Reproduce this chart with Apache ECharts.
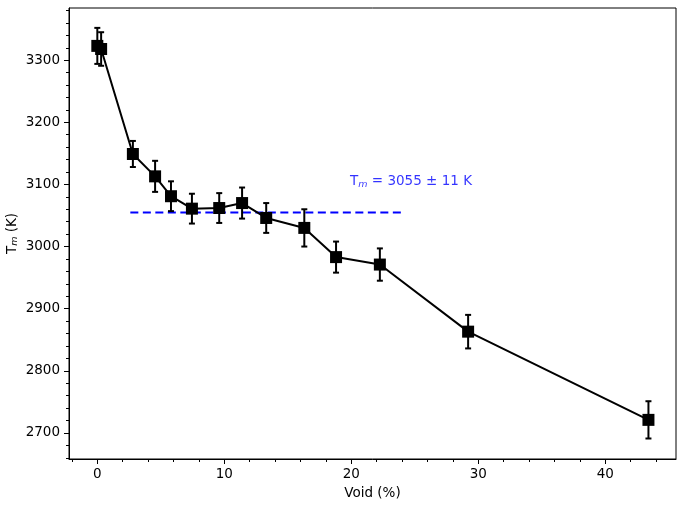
<!DOCTYPE html>
<html>
<head>
<meta charset="utf-8">
<script src="https://cdn.jsdelivr.net/npm/echarts@6/dist/echarts.min.js"></script>
<style>
  html, body { margin: 0; padding: 0; background: #fff; }
  #chart { width: 683px; height: 507px; }
</style>
</head>
<body>
<div id="chart"></div>
<script>
  // data
  var voids = [0, 0.3, 2.8, 4.55, 5.8, 7.45, 9.6, 11.4, 13.3, 16.3, 18.8, 22.25, 29.2, 43.4];
  var tm = [3323, 3318, 3149, 3113, 3081, 3061, 3062, 3070, 3046, 3030, 2983, 2971, 2863, 2721];
  var tmErr = [29, 27, 21, 25, 24, 24, 24, 25, 24, 30, 25, 26, 27, 30];
  var meanX = [2.6, 24.1];
  var meanTm = 3055;
  var xMajor = [0, 10, 20, 30, 40];
  var xMinor = [-2, 2, 4, 6, 8, 12, 14, 16, 18, 22, 24, 26, 28, 32, 34, 36, 38, 42, 44];
  var yMajor = [2700, 2800, 2900, 3000, 3100, 3200, 3300];
  var yMinor = [2660, 2680, 2720, 2740, 2760, 2780, 2820, 2840, 2860, 2880, 2920, 2940, 2960, 2980,
                3020, 3040, 3060, 3080, 3120, 3140, 3160, 3180, 3220, 3240, 3260, 3280, 3320, 3340, 3360, 3380];

  var xMin = -2.23, xMax = 45.57, yMin = 2658, yMax = 3384;
  var font = 'DejaVu Sans';

  var points = [];
  var bars = [];
  for (var i = 0; i < voids.length; i++) {
    points.push([voids[i], tm[i]]);
    bars.push([voids[i], tm[i] - tmErr[i], tm[i] + tmErr[i]]);
  }

  function axisX(idx, vals, len, labels) {
    return {
      type: 'value', min: xMin, max: xMax, gridIndex: 0, position: 'bottom',
      name: idx === 0 ? 'Void (%)' : '', nameLocation: 'middle', nameGap: 27, nameMoveOverlap: false,
      nameTextStyle: { fontFamily: font, fontSize: 13.5, color: '#000' },
      axisLine: { show: idx === 0, onZero: false, lineStyle: { color: '#000', width: 1 } },
      axisTick: { show: true, inside: false, length: len, customValues: vals, lineStyle: { color: '#000', width: 1 } },
      axisLabel: { show: labels, customValues: vals, formatter: function (v) { return String(v); },
        fontFamily: font, fontSize: 13.5, color: '#000', margin: 8 },
      splitLine: { show: false }
    };
  }
  function axisY(idx, vals, len, labels) {
    return {
      type: 'value', min: yMin, max: yMax, gridIndex: 0, position: 'left',
      name: idx === 0 ? 'T{sub|m} (K)' : '', nameLocation: 'middle', nameGap: 49, nameMoveOverlap: false,
      nameTextStyle: {
        fontFamily: font, fontSize: 13.5, color: '#000',
        rich: { sub: { fontFamily: font, fontSize: 9.5, fontStyle: 'italic', color: '#000', padding: [6, 0, 0, 0] } }
      },
      axisLine: { show: idx === 0, onZero: false, lineStyle: { color: '#000', width: 1 } },
      axisTick: { show: true, inside: false, length: len, customValues: vals, lineStyle: { color: '#000', width: 1 } },
      axisLabel: { show: labels, customValues: vals, formatter: function (v) { return String(v); },
        fontFamily: font, fontSize: 13.5, color: '#000', margin: 9 },
      splitLine: { show: false }
    };
  }

  var chart = echarts.init(document.getElementById('chart'));
  chart.setOption({
    animation: false,
    backgroundColor: '#fff',
    grid: { left: 69, right: 7, top: 8, bottom: 48, show: true, borderColor: '#000', borderWidth: 1,
      containLabel: false, outerBoundsMode: 'none' },
    xAxis: [axisX(0, xMajor, 5, true), axisX(1, xMinor, 3, false)],
    yAxis: [axisY(0, yMajor, 5, true), axisY(1, yMinor, 3, false)],
    series: [
      {
        type: 'line',
        data: meanX.map(function (x) { return [x, meanTm]; }),
        symbol: 'none',
        lineStyle: { color: '#0000ff', width: 2, type: [8, 4.5] },
        z: 1
      },
      {
        type: 'custom',
        data: bars,
        z: 3,
        renderItem: function (params, api) {
          var x = api.value(0);
          var lo = api.coord([x, api.value(1)]);
          var hi = api.coord([x, api.value(2)]);
          var cap = 3;
          var st = { stroke: '#000', lineWidth: 2 };
          return {
            type: 'group',
            children: [
              { type: 'line', shape: { x1: lo[0], y1: lo[1], x2: hi[0], y2: hi[1] }, style: st },
              { type: 'line', shape: { x1: lo[0] - cap, y1: lo[1], x2: lo[0] + cap, y2: lo[1] }, style: st },
              { type: 'line', shape: { x1: hi[0] - cap, y1: hi[1], x2: hi[0] + cap, y2: hi[1] }, style: st }
            ]
          };
        }
      },
      {
        type: 'line',
        data: points,
        symbol: 'rect',
        symbolSize: 12,
        itemStyle: { color: '#000' },
        lineStyle: { color: '#000', width: 2 },
        z: 4
      },
      {
        type: 'scatter',
        data: [[19.9, 3105]],
        symbolSize: 0,
        silent: true,
        label: {
          show: true, position: 'right', distance: 0,
          formatter: 'T{sub|m} = 3055 ± 11 K',
          fontFamily: font, fontSize: 13.5, color: '#0000ff',
          rich: { sub: { fontFamily: font, fontSize: 9.5, fontStyle: 'italic', color: '#0000ff', padding: [6, 0, 0, 0] } }
        }
      }
    ]
  });
</script>
</body>
</html>
